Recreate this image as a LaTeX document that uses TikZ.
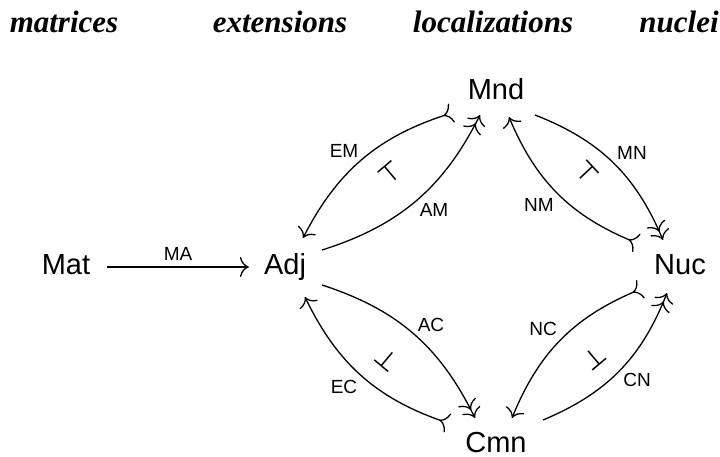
\documentclass[tikz,border=0pt]{standalone}
\usepackage{fontspec}
\setmainfont{Liberation Sans}
\newfontfamily\titlefont{Liberation Serif}
\newfontfamily\symfont{DejaVu Sans}
\usetikzlibrary{arrows.meta,bending}
\tikzset{
  obj/.style={font=\fontsize{29bp}{30bp}\selectfont, inner sep=0pt, anchor=base},
  lab/.style={font=\fontsize{19bp}{20bp}\selectfont, inner sep=0pt},
  ttl/.style={font=\fontsize{31bp}{32bp}\selectfont\titlefont\bfseries\itshape, inner sep=0pt, anchor=base},
  adjsym/.style={font=\fontsize{26bp}{26bp}\selectfont\symfont, inner sep=0pt},
  arr/.style={line width=1.3bp},
  plainhead/.style={-{Computer Modern Rightarrow[length=9bp,width=20bp]}},
  epi/.style={-{Computer Modern Rightarrow[length=9bp,width=20bp] Computer Modern Rightarrow[length=9bp,width=20bp]}},
  mono/.style={{Computer Modern Rightarrow[length=9bp,width=20bp,reversed]}-{Computer Modern Rightarrow[length=9bp,width=20bp]}}
}
\begin{document}
\begin{tikzpicture}[x=1bp,y=-1bp]
\useasboundingbox (0,0) rectangle (720,457);
% titles
\node[ttl] (t1) at (64,33) {matrices};
\node[ttl] (t2) at (280,33) {extensions};
\node[ttl] (t3) at (493,33) {localizations};
\node[ttl] (t4) at (679,33) {nuclei};
% objects
\node[obj] (Mat) at (66,275) {Mat};
\node[obj] (Adj) at (285,275) {Adj};
\node[obj] (Mnd) at (496,100) {Mnd};
\node[obj] (Nuc) at (680,275) {Nuc};
\node[obj] (Cmn) at (496,452) {Cmn};
% MA
\draw[arr,plainhead] ([shift={(17,-8)}]Mat.base east) -- ([shift={(-15,-8)}]Adj.base west)
  node[lab,midway,above=6bp] (lMA) {MA};
% Adj - Mnd
\draw[arr,mono] ([shift={(-44,13)}]Mnd.base) to[bend right=23] ([shift={(18,-37)}]Adj.base);
\draw[arr,epi] ([shift={(37,-25)}]Adj.base) to[bend right=23] ([shift={(-16,15)}]Mnd.base);
\node[lab] (lEM) at (344,151) {EM};
\node[lab] (lAM) at (434,210) {AM};
\node[adjsym,rotate=40] (s1) at (390,173) {⊤};
% Mnd - Nuc
\draw[arr,epi] ([shift={(39,15)}]Mnd.base) to[bend left=23] ([shift={(-17,-35)}]Nuc.base);
\draw[arr,mono] ([shift={(-43,-32)}]Nuc.base) to[bend left=23] ([shift={(13,17)}]Mnd.base);
\node[lab] (lMN) at (632,153) {MN};
\node[lab] (lNM) at (539,205) {NM};
\node[adjsym,rotate=-47] (s2) at (587,173) {⊤};
% Adj - Cmn
\draw[arr,epi] ([shift={(37,10)}]Adj.base) to[bend left=23] ([shift={(-21,-34)}]Cmn.base);
\draw[arr,mono] ([shift={(-48,-29)}]Cmn.base) to[bend left=23] ([shift={(20,22)}]Adj.base);
\node[lab] (lAC) at (431,325) {AC};
\node[lab] (lEC) at (344,387) {EC};
\node[adjsym,rotate=-40] (s3) at (387,360) {⊥};
% Nuc - Cmn
\draw[arr,mono] ([shift={(-39,14)}]Nuc.base) to[bend right=23] ([shift={(16,-34)}]Cmn.base);
\draw[arr,epi] ([shift={(47,-32)}]Cmn.base) to[bend right=23] ([shift={(-13,18)}]Nuc.base);
\node[lab] (lNC) at (543,329) {NC};
\node[lab] (lCN) at (637,380) {CN};
\node[adjsym,rotate=40] (s4) at (594,358) {⊥};
\end{tikzpicture}
\end{document}
